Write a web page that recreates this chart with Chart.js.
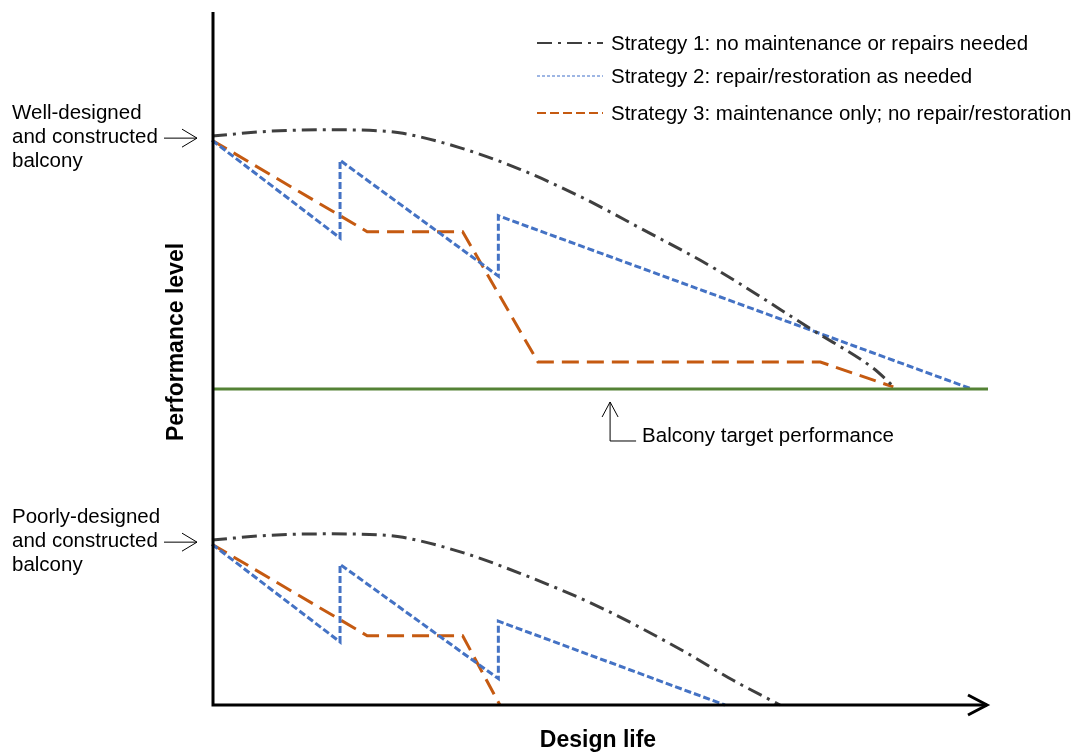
<!DOCTYPE html>
<html>
<head>
<meta charset="utf-8">
<script src="https://cdn.jsdelivr.net/npm/chart.js@4.4.1/dist/chart.umd.min.js"></script>
<style>
  html, body { margin: 0; padding: 0; background: #fff; }
  #wrap { width: 1075px; height: 753px; }
</style>
</head>
<body>
<div id="wrap"><canvas id="chart" width="1075" height="753"></canvas></div>
<script>
// design life (0-100) vs performance level (0-100)
const S1_WELL_X = [0, 7.5, 15.2, 22.3, 24.6, 32.0, 39.7, 47.4, 55.2, 64.6, 77.4, 85.2, 87.8];
const S1_WELL_Y = [82.1, 82.8, 83.0, 82.8, 82.5, 80.4, 77.3, 73.4, 68.8, 63.1, 54.1, 48.6, 46.0];
const S2_WELL_X = [0, 16.5, 16.5, 36.9, 36.9, 97.9];
const S2_WELL_Y = [81.5, 67.4, 78.6, 61.9, 70.6, 45.6];
const S3_WELL_X = [0, 20.0, 32.3, 42.0, 78.4, 87.8];
const S3_WELL_Y = [81.5, 68.3, 68.3, 49.5, 49.5, 45.9];

const S1_POOR_X = [0, 7.5, 15.2, 22.3, 24.6, 32.0, 39.7, 50.0, 61.2, 67.1, 73.2];
const S1_POOR_Y = [23.8, 24.5, 24.7, 24.5, 24.2, 22.1, 19.0, 14.1, 7.5, 3.6, 0];
const S2_POOR_X = [0, 16.5, 16.5, 36.9, 36.9, 66.1];
const S2_POOR_Y = [23.2, 9.1, 20.3, 3.8, 12.1, 0];
const S3_POOR_X = [0, 20.0, 32.3, 37.1];
const S3_POOR_Y = [23.2, 10.0, 10.0, 0];

const TARGET_X = [0, 100];
const TARGET_Y = [45.6, 45.6];
const TARGET_NOTE_X = 51.3;

const LEGEND_LABELS = [
  'Strategy 1: no maintenance or repairs needed',
  'Strategy 2: repair/restoration as needed',
  'Strategy 3: maintenance only; no repair/restoration',
];
const WELL_LABEL = ['Well-designed', 'and constructed', 'balcony'];
const POOR_LABEL = ['Poorly-designed', 'and constructed', 'balcony'];
const TARGET_LABEL = 'Balcony target performance';
const X_TITLE = 'Design life';
const Y_TITLE = 'Performance level';

const C1 = '#3f3f3f';
const C2 = '#4472c4';
const C3 = '#c55a11';
const CG = '#548235';
const DASH1 = [15, 6, 3, 6];
const DASH2 = [7, 3];
const DASH3 = [17, 8];
const FONT = '"Liberation Sans", Arial, sans-serif';

const pts = (xs, ys) => xs.map((x, i) => ({ x, y: ys[i] }));

function line(data, color, dash, smooth) {
  return {
    data,
    borderColor: color,
    borderWidth: 3,
    borderDash: dash,
    pointRadius: 0,
    showLine: true,
    fill: false,
    tension: 0,
    cubicInterpolationMode: smooth ? 'monotone' : 'default',
    clip: false,
  };
}

function arrowRight(ctx, x1, x2, y) {
  ctx.beginPath();
  ctx.moveTo(x1, y);
  ctx.lineTo(x2, y);
  ctx.moveTo(x2 - 15, y - 9);
  ctx.lineTo(x2, y);
  ctx.lineTo(x2 - 15, y + 9);
  ctx.stroke();
}

const decor = {
  id: 'decor',
  afterDatasetsDraw(chart) {
    const { ctx, chartArea: a, scales } = chart;
    const xs = scales.x, ys = scales.y;
    ctx.save();

    // axes
    ctx.strokeStyle = '#000';
    ctx.lineWidth = 3;
    ctx.setLineDash([]);
    ctx.beginPath();
    ctx.moveTo(a.left + 1, a.top);
    ctx.lineTo(a.left + 1, a.bottom);
    ctx.lineTo(a.right - 1, a.bottom);
    ctx.stroke();
    ctx.beginPath();
    ctx.moveTo(a.right - 20, a.bottom - 10);
    ctx.lineTo(a.right - 1, a.bottom);
    ctx.lineTo(a.right - 20, a.bottom + 10);
    ctx.stroke();

    // axis titles
    ctx.fillStyle = '#000';
    ctx.font = 'bold 23px ' + FONT;
    ctx.textAlign = 'center';
    ctx.textBaseline = 'middle';
    ctx.fillText(X_TITLE, 598, 741);
    ctx.save();
    ctx.translate(177, 342);
    ctx.rotate(-Math.PI / 2);
    ctx.fillText(Y_TITLE, 0, 0);
    ctx.restore();

    // side labels with arrows
    ctx.font = '20.5px ' + FONT;
    ctx.textAlign = 'left';
    ctx.lineWidth = 1;
    const wellY = ys.getPixelForValue((S1_WELL_Y[0] + S2_WELL_Y[0]) / 2);
    const poorY = ys.getPixelForValue((S1_POOR_Y[0] + S2_POOR_Y[0]) / 2);
    WELL_LABEL.forEach((t, i) => ctx.fillText(t, 12, wellY - 25 + i * 24));
    POOR_LABEL.forEach((t, i) => ctx.fillText(t, 12, poorY - 25 + i * 24));
    arrowRight(ctx, 164, a.left - 15, wellY);
    arrowRight(ctx, 164, a.left - 15, poorY);

    // target note
    const tx = xs.getPixelForValue(TARGET_NOTE_X);
    const ty = ys.getPixelForValue(TARGET_Y[0]);
    ctx.beginPath();
    ctx.moveTo(tx - 8, ty + 28);
    ctx.lineTo(tx, ty + 13);
    ctx.lineTo(tx + 8, ty + 28);
    ctx.moveTo(tx, ty + 13);
    ctx.lineTo(tx, ty + 52);
    ctx.lineTo(tx + 26, ty + 52);
    ctx.stroke();
    ctx.fillText(TARGET_LABEL, tx + 32, ty + 47);

    // legend
    const legY = [43, 76, 113];
    const legStyle = [[C1, DASH1, 2], ['#7f9fdc', [3, 2], 1.5], [C3, [9, 4], 1.8]];
    LEGEND_LABELS.forEach((t, i) => {
      const [col, dash, w] = legStyle[i];
      ctx.strokeStyle = col;
      ctx.lineWidth = w;
      ctx.setLineDash(dash);
      ctx.beginPath();
      ctx.moveTo(537, legY[i]);
      ctx.lineTo(603, legY[i]);
      ctx.stroke();
      ctx.setLineDash([]);
      ctx.fillStyle = '#000';
      ctx.fillText(t, 611, legY[i] + 1);
    });

    ctx.restore();
  },
};

new Chart(document.getElementById('chart'), {
  type: 'scatter',
  data: {
    datasets: [
      line(pts(TARGET_X, TARGET_Y), CG, [], false),
      line(pts(S1_WELL_X, S1_WELL_Y), C1, DASH1, true),
      line(pts(S2_WELL_X, S2_WELL_Y), C2, DASH2, false),
      line(pts(S3_WELL_X, S3_WELL_Y), C3, DASH3, false),
      line(pts(S1_POOR_X, S1_POOR_Y), C1, DASH1, true),
      line(pts(S2_POOR_X, S2_POOR_Y), C2, DASH2, false),
      line(pts(S3_POOR_X, S3_POOR_Y), C3, DASH3, false),
    ],
  },
  options: {
    responsive: false,
    devicePixelRatio: 1,
    animation: false,
    layout: { padding: { left: 212, right: 87, top: 12, bottom: 48 } },
    plugins: { legend: { display: false }, tooltip: { enabled: false } },
    scales: {
      x: { type: 'linear', min: 0, max: 100, display: false },
      y: { type: 'linear', min: 0, max: 100, display: false },
    },
  },
  plugins: [decor],
});
</script>
</body>
</html>
